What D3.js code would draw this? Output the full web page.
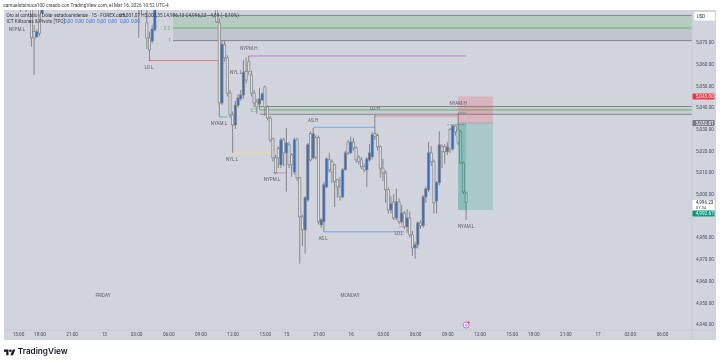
<!DOCTYPE html>
<html>
<head>
<meta charset="utf-8">
<script src="https://d3js.org/d3.v7.min.js"></script>
<style>
html, body { margin: 0; padding: 0; background: #fff; }
svg { display: block; font-family: Roboto, "Liberation Sans", sans-serif; filter: blur(0.3px); }
</style>
</head>
<body>
<div id="chart"></div>
<script>
const timeTickBars = [0, 8, 20, 32, 44, 56, 68, 80, 92, 100, 112, 124, 136, 148, 160, 172, 184, 192, 204, 216, 228, 240];
const timeTickLabels = ["15:00", "18:00", "21:00", "13", "03:00", "06:00", "09:00", "12:00", "15:00", "15", "21:00", "16", "03:00", "06:00", "09:00", "12:00", "15:00", "18:00", "21:00", "17", "03:00", "06:00"];
// 4,990.00 sits behind the green tag in the picture, so it is left out
const priceTicks = [5070, 5060, 5050, 5040, 5030, 5020, 5010, 5000, 4980, 4970, 4960, 4950, 4940];

// 15 minute bars, counted from the 15:00 tick on the left
const barIndex = [1, 3, 5, 6, 7, 8, 9, 45, 46, 48, 49, 50, 51, ...d3.range(74, 168)];
const opens = [5092, 5092, 5090, 5075, 5072.5, 5085, 5083.5, 5090, 5092, 5079, 5072, 5070.6, 5075.7,
    5090, 5079, 5042, 5068.8, 5062.8, 5046.6, 5036.5, 5031.9, 5041, 5044, 5045.7, 5056.5, 5061, 5054.9, 5046.6, 5042.5, 5041.6, 5043.4, 5049.4, 5040.2, 5035, 5025.5, 5016.7, 5021, 5013.5, 5025, 5019, 5022.7, 5018, 5010.2, 5025, 5007.5, 4989.5, 4983.5, 4997.3, 5028, 5016.7, 5026, 5026, 4985.8, 4987.2, 5003.3, 5015.8, 5014.9, 5013.5, 5006.6, 5003.3, 4998.7, 5011.2, 5024, 5019, 5024, 5021.3, 5017, 5015.8, 5012.6, 5011.2, 5015.8, 5017.2, 5028, 5027, 5021.8, 5012, 5009.8, 5002, 4992.7, 4996.4, 4989, 4996.4, 4987.2, 4991.3, 4984.9, 4989, 4981.2, 4975.2, 4976.6, 4986.7, 4985.4, 4998.7, 5002, 5019, 5014.9, 4996.9, 5005.2, 5022, 5021.8, 5019.5, 5029.8, 5020.8, 5031.4, 5029.6, 5028.7, 5014.4, 5000.5];
const highs = [5095, 5095, 5095, 5078, 5076, 5090, 5092, 5095, 5095, 5090, 5075, 5078, 5092,
    5095, 5081, 5071, 5071, 5064, 5048, 5038, 5043, 5046, 5048, 5062, 5063, 5063.7, 5057, 5048, 5044, 5049, 5047, 5050, 5041, 5036, 5026, 5018, 5022, 5026, 5026, 5030.5, 5024, 5019, 5026, 5026, 5008, 4990.5, 4999, 5023.5, 5029, 5030.5, 5027, 5027, 4989, 5005.5, 5017, 5019, 5016, 5014, 5007, 5008, 5012, 5020, 5025, 5026.5, 5026, 5022, 5018, 5017, 5014, 5017, 5023, 5028.5, 5036.5, 5028, 5022.5, 5016.2, 5011, 5003, 4999, 5000, 5002.5, 4998, 4995, 4992, 4993, 4992, 4983, 4978, 4987.5, 4988, 4999.5, 5003.5, 5024, 5022, 5016, 5006, 5029, 5023, 5023, 5024, 5030.5, 5032, 5032, 5037.4, 5029.5, 5015, 5001.2];
const lows = [5084, 5084, 5068, 5055, 5072, 5073, 5083, 5072, 5083, 5066.9, 5061.4, 5069.5, 5075,
    5079, 5035.6, 5041, 5061, 5045, 5035, 5019, 5030, 5040, 5043, 5044, 5051, 5055, 5045, 5040, 5037, 5038.8, 5043, 5036, 5034, 5024, 5015, 5009, 5012, 5012, 5013, 5001.2, 5012, 5008, 5009, 5006, 4967.9, 4976, 4972.5, 4996.5, 5015, 5016, 5016, 4986, 4984.5, 4982.6, 5003, 5010, 5005, 4994, 4998.3, 4997, 4998, 5011, 5018, 5018.5, 5020, 5014.5, 5013.5, 5011.5, 5010, 5003.3, 5015, 5016, 5025, 5020, 5007.5, 5006, 4996, 4991, 4991, 4988, 4988, 4986, 4986, 4984, 4982, 4980, 4971.5, 4970.2, 4975, 4984, 4984.5, 4996, 5001, 5013, 4991, 4991, 5004, 5012, 5014, 5018, 5019, 5020, 5027, 5022.7, 5014, 5000, 4988.1];
const closes = [5090, 5090, 5072, 5072, 5074.8, 5074, 5090, 5085, 5090, 5072, 5066.5, 5076.1, 5086,
    5079.4, 5042, 5069.2, 5062.8, 5046.6, 5036.5, 5031.9, 5041.1, 5044.3, 5045.7, 5056.3, 5052.6, 5056.5, 5046.6, 5042, 5040.2, 5043.9, 5046.2, 5040.2, 5035.1, 5025, 5016.7, 5009.8, 5016.7, 5025, 5019, 5023.6, 5013.5, 5013.5, 5025, 5007.5, 4989.5, 4983.5, 4998.3, 5022.7, 5015.8, 5027.8, 5017, 4987.2, 4988.1, 5004.3, 5016.2, 5011.2, 5010.2, 5005.7, 5003.3, 4998.7, 5011.2, 5019, 5019, 5024, 5021.3, 5015.8, 5014.9, 5012.6, 5011.2, 5016.2, 5019, 5027.3, 5026.5, 5021.8, 5012, 5009.8, 5002, 4992.7, 4995.5, 4989, 4996.4, 4987.2, 4991.3, 4984.9, 4989, 4981.2, 4975.2, 4976.6, 4986.7, 4985.4, 4998.7, 5002.4, 5019, 5014.9, 4996, 5005.2, 5022.7, 5019.5, 5019.5, 5021.8, 5020.8, 5031.4, 5028.7, 5023.6, 5014.4, 5001, 4996.2];

// session levels: [name, first bar, last bar, price]
const levelNames = ["LO.L", "NYPM.H", "NYAM.L", "NYL.L", "NYPM.L", "AS.H", "AS.L", "LO.H", "LO.L", "NYAM.H"];
const levelFrom = [49, 86, 75, 80, 95, 110, 114, 133, 142, 164];
const levelTo = [75, 167, 78, 95, 100, 133, 144, 164, 144, 167];
const levelPrices = [5061.6, 5063.7, 5035.6, 5019.1, 5009.8, 5030.8, 4982.6, 5036, 4984.9, 5037.4];
const levelColors = ["#e07a7a", "#c07ed8", "#74b3aa", "#e6d99f", "#d286cb", "#84a2e6", "#84a2e6", "#e58c91", "#e58c91", "#4faea0"];

const labelTexts = ["NYPM.L", "LO.L", "NYL.L", "NYPM.H", "NYAM.L", "NYL.L", "AS.H", "NYPM.L", "LO.H", "NYAM.H", "AS.L", "LO.L", "NYAM.L", "FRIDAY", "MONDAY"];
const labelBars = [-0.4, 48.8, 81.3, 86, 74.9, 79.8, 110, 94.7, 133, 164, 113.7, 142, 167, 31.7, 123.7];
const labelPrices = [5075.9, 5058.4, 5056.3, 5067.4, 5032.4, 5015.8, 5034.2, 5006.6, 5039.7, 5041.6, 4979.4, 4981.7, 4984.9, 4953.1, 4953.1];

const upperZone = [5082.4, 5076.6, 5070.8];
const lowerZone = [5040.4, 5038.8, 5036.8];
const upperZoneStart = 57.8;
const lowerZoneStart = 90.2;

const stopPrice = 5045;
const entryPrice = 5032.81;
const targetPrice = 4992.67;
const lastPrice = 4996.23;
const positionBars = [164, 177];
const positionNow = 167;

const width = 720;
const height = 362;
const plotLeft = 4;
const plotRight = 692;
const plotTop = 10;
const plotBottom = 330;
const bottomEdge = 340;
const axisRight = 716;

const svg = d3.select("#chart").append("svg")
    .attr("width", width)
    .attr("height", height)
    .attr("viewBox", `0 0 ${width} ${height}`);

const x = d3.scaleLinear().domain([0, 240]).range([18, 662]);
const y = d3.scaleLinear().domain([4940, 5070]).range([324.2, 42.3]);

svg.append("rect").attr("width", width).attr("height", height).attr("fill", "#fff");
svg.append("rect")
    .attr("x", plotLeft).attr("y", plotTop)
    .attr("width", axisRight - plotLeft).attr("height", bottomEdge - plotTop)
    .attr("fill", "#d1d4dc");

svg.append("defs").append("clipPath").attr("id", "plot-clip")
    .append("rect")
    .attr("x", plotLeft).attr("y", plotTop)
    .attr("width", plotRight - plotLeft).attr("height", plotBottom - plotTop);

const plot = svg.append("g").attr("clip-path", "url(#plot-clip)");

function drawZone(prices, startBar, fib) {
    const left = x(startBar);
    plot.append("rect")
        .attr("x", left).attr("y", y(prices[0]))
        .attr("width", plotRight - left).attr("height", y(prices[1]) - y(prices[0]))
        .attr("fill", "#4caf50").attr("opacity", fib ? 0.2 : 0.1);
    plot.append("rect")
        .attr("x", left).attr("y", y(prices[1]))
        .attr("width", plotRight - left).attr("height", y(prices[2]) - y(prices[1]))
        .attr("fill", "#787b86").attr("opacity", fib ? 0.17 : 0.08);
    prices.forEach((p, i) => {
        plot.append("line")
            .attr("x1", left).attr("x2", plotRight)
            .attr("y1", y(p)).attr("y2", y(p))
            .attr("stroke", i === 1 ? "#66b072" : "#85878b")
            .attr("stroke-width", 1);
    });
}
drawZone(upperZone, upperZoneStart, true);
drawZone(lowerZone, lowerZoneStart, false);

const fibTexts = ["0.5", "1", "0.5"];
const fibBars = [55.5, 56.5, 87.8];
const fibPrices = [upperZone[1], upperZone[2], lowerZone[1]];
const fibColors = ["#6fb37a", "#85878c", "#6fb37a"];
plot.selectAll(".fib")
    .data(fibTexts)
    .enter()
    .append("text")
    .attr("class", "fib")
    .attr("x", (d, i) => x(fibBars[i]))
    .attr("y", (d, i) => y(fibPrices[i]))
    .attr("dy", "0.35em")
    .attr("text-anchor", "middle")
    .style("font-size", "4.6px")
    .style("fill", (d, i) => fibColors[i])
    .text(d => d);

// levels
plot.selectAll(".level")
    .data(levelNames)
    .enter()
    .append("line")
    .attr("class", "level")
    .attr("x1", (d, i) => x(levelFrom[i]))
    .attr("x2", (d, i) => x(levelTo[i]))
    .attr("y1", (d, i) => y(levelPrices[i]))
    .attr("y2", (d, i) => y(levelPrices[i]))
    .attr("stroke", (d, i) => levelColors[i])
    .attr("stroke-width", 1);

// candles
const bars = barIndex.map((b, i) => ({ b, o: opens[i], h: highs[i], l: lows[i], c: closes[i] }));
const barGroup = plot.append("g");
barGroup.selectAll(".wick")
    .data(bars)
    .enter()
    .append("line")
    .attr("class", "wick")
    .attr("x1", d => x(d.b))
    .attr("x2", d => x(d.b))
    .attr("y1", d => y(d.h))
    .attr("y2", d => y(d.l))
    .attr("stroke", "#7c7d80")
    .attr("stroke-width", 0.9);
barGroup.selectAll(".body")
    .data(bars)
    .enter()
    .append("rect")
    .attr("class", "body")
    .attr("x", d => x(d.b) - 1.1)
    .attr("width", 2.2)
    .attr("y", d => y(Math.max(d.o, d.c)))
    .attr("height", d => Math.max(0.6, Math.abs(y(d.o) - y(d.c))))
    .attr("fill", d => d.c > d.o ? "#2f6ec8" : "#dcdde0")
    .attr("stroke", "#808184")
    .attr("stroke-width", 0.7);

// position box
const boxLeft = x(positionBars[0]);
const boxWidth = x(positionBars[1]) - boxLeft;
plot.append("rect")
    .attr("x", boxLeft).attr("y", y(stopPrice))
    .attr("width", boxWidth).attr("height", y(entryPrice) - y(stopPrice))
    .attr("fill", "#f23645").attr("opacity", 0.2);
plot.append("rect")
    .attr("x", boxLeft).attr("y", y(entryPrice))
    .attr("width", boxWidth).attr("height", y(targetPrice) - y(entryPrice))
    .attr("fill", "#089981").attr("opacity", 0.2);
plot.append("rect")
    .attr("x", boxLeft).attr("y", y(entryPrice))
    .attr("width", x(positionNow) - boxLeft).attr("height", y(targetPrice) - y(entryPrice))
    .attr("fill", "#089981").attr("opacity", 0.22);
plot.append("line")
    .attr("x1", boxLeft).attr("x2", boxLeft + boxWidth)
    .attr("y1", y(entryPrice)).attr("y2", y(entryPrice))
    .attr("stroke", "#8b9a9e").attr("stroke-width", 0.5);
plot.append("line")
    .attr("x1", x(160)).attr("x2", x(167))
    .attr("y1", y(5032)).attr("y2", y(5032))
    .attr("stroke", "#5a5c60").attr("stroke-width", 0.6)
    .attr("stroke-dasharray", "1.5,1.5");

// session labels
plot.selectAll(".label")
    .data(labelTexts)
    .enter()
    .append("text")
    .attr("class", "label")
    .attr("x", (d, i) => x(labelBars[i]))
    .attr("y", (d, i) => y(labelPrices[i]))
    .attr("dy", "0.35em")
    .attr("text-anchor", "middle")
    .style("font-size", "4.6px")
    .style("fill", "#5d6068")
    .text(d => d);

// axes
svg.append("line")
    .attr("x1", plotRight).attr("x2", plotRight)
    .attr("y1", plotTop).attr("y2", bottomEdge)
    .attr("stroke", "#c3c6ce").attr("stroke-width", 0.7);
svg.append("line")
    .attr("x1", plotLeft).attr("x2", axisRight)
    .attr("y1", plotBottom).attr("y2", plotBottom)
    .attr("stroke", "#c3c6ce").attr("stroke-width", 0.7);

const priceAxis = svg.append("g")
    .attr("transform", `translate(${plotRight},0)`)
    .call(d3.axisRight(y).tickValues(priceTicks).tickFormat(d3.format(",.2f")).tickSize(0).tickPadding(4));
priceAxis.select(".domain").remove();
priceAxis.selectAll("text").style("font-size", "4.7px").style("fill", "#4a4d55").style("font-family", "Roboto");

const timeAxis = svg.append("g")
    .attr("transform", `translate(0,${plotBottom})`)
    .call(d3.axisBottom(x).tickValues(timeTickBars).tickFormat((d, i) => timeTickLabels[i]).tickSize(0).tickPadding(2.5));
timeAxis.select(".domain").remove();
timeAxis.selectAll("text").style("font-size", "4.7px").style("fill", "#4a4d55").style("font-family", "Roboto");

// price tags on the right
function priceTag(price, shift, fill, textColor) {
    svg.append("rect")
        .attr("x", plotRight + 0.5).attr("y", y(price) + shift - 3)
        .attr("width", 22).attr("height", 6).attr("rx", 0.8)
        .attr("fill", fill);
    svg.append("text")
        .attr("x", plotRight + 3.8).attr("y", y(price) + shift)
        .attr("dy", "0.35em")
        .style("font-size", "4.7px")
        .style("fill", textColor)
        .text(d3.format(",.2f")(price));
}
priceTag(stopPrice, 0, "#f23645", "#fff");
priceTag(entryPrice, 0, "#787b86", "#fff");

svg.append("rect")
    .attr("x", plotRight + 0.5).attr("y", y(lastPrice) - 2.4)
    .attr("width", 22).attr("height", 10.7).attr("fill", "#fff");
svg.append("text")
    .attr("x", plotRight + 3.8).attr("y", y(lastPrice) + 0.3)
    .attr("dy", "0.35em")
    .style("font-size", "4.6px").style("fill", "#26292f")
    .text(d3.format(",.2f")(lastPrice));
svg.append("text")
    .attr("x", plotRight + 3.8).attr("y", y(lastPrice) + 5.1)
    .attr("dy", "0.35em")
    .style("font-size", "4.2px").style("fill", "#50535b")
    .text("07:34");
// the platform pushes this tag below the last price box
priceTag(targetPrice, 3.5, "#089981", "#fff");

// USD button
svg.append("rect")
    .attr("x", 694).attr("y", 12)
    .attr("width", 21).attr("height", 8.5).attr("rx", 1.5)
    .attr("fill", "#fff");
svg.append("text")
    .attr("x", 701).attr("y", 16.2)
    .attr("dy", "0.35em").attr("text-anchor", "middle")
    .style("font-size", "4.5px").style("fill", "#26292f")
    .text("USD");

// header and legend
svg.append("text")
    .attr("x", 3.3).attr("y", 5.3)
    .attr("dy", "0.35em")
    .style("font-size", "4.75px").style("fill", "#3a3d44")
    .text("samuelstsinuca100 creado con TradingView.com, el Mar 16, 2026 10:52 UTC-4");

svg.append("text")
    .attr("x", 6.5).attr("y", 15.3)
    .attr("dy", "0.35em")
    .style("font-size", "4.75px").style("fill", "#33363d")
    .text("Oro al contado / Dólar estadounidense · 15 · FOREX.com");
svg.append("text")
    .attr("x", 119).attr("y", 15.3)
    .attr("dy", "0.35em")
    .style("font-size", "4.75px").style("fill", "#33363d")
    .text("O5,001,07 H5,002,35 L4,986,13 C4,996,23 −4,84 (−0,10%)");

svg.append("text")
    .attr("x", 6.5).attr("y", 21.3)
    .attr("dy", "0.35em")
    .style("font-size", "4.75px").style("fill", "#33363d")
    .text("ICT Killzones & Pivots [TFO]");
const killzoneOffsets = [64, 75, 86, 97, 108, 120, 131];
svg.selectAll(".zero")
    .data(killzoneOffsets)
    .enter()
    .append("text")
    .attr("class", "zero")
    .attr("x", d => d)
    .attr("y", 21.3)
    .attr("dy", "0.35em")
    .style("font-size", "4.75px").style("fill", "#3b74e0")
    .text("0,00");

// marker on the time axis
svg.append("circle")
    .attr("cx", x(167)).attr("cy", 325)
    .attr("r", 3).attr("fill", "#fff")
    .attr("stroke", "#b765d6").attr("stroke-width", 0.9);
svg.append("circle")
    .attr("cx", x(167)).attr("cy", 325)
    .attr("r", 1.2).attr("fill", "none")
    .attr("stroke", "#b765d6").attr("stroke-width", 0.7);
svg.append("rect")
    .attr("x", x(167) + 1.6).attr("y", 321.5)
    .attr("width", 1.8).attr("height", 1.8).attr("fill", "#f23645");

// TradingView logo
const logo = svg.append("g")
    .attr("transform", "translate(4,348.2) scale(0.32)")
    .attr("fill", "#131722");
logo.append("path").attr("d", "M14 22H7V11H0V4h14v18zM28 22h-8l7.5-18h8L28 22z");
logo.append("circle").attr("cx", 20).attr("cy", 8).attr("r", 4);
svg.append("text")
    .attr("x", 17.8).attr("y", 351.3)
    .attr("dy", "0.35em")
    .style("font-family", "Inter")
    .style("font-size", "8.2px")
    .style("font-weight", 600)
    .style("fill", "#131722")
    .text("TradingView");
</script>
</body>
</html>
